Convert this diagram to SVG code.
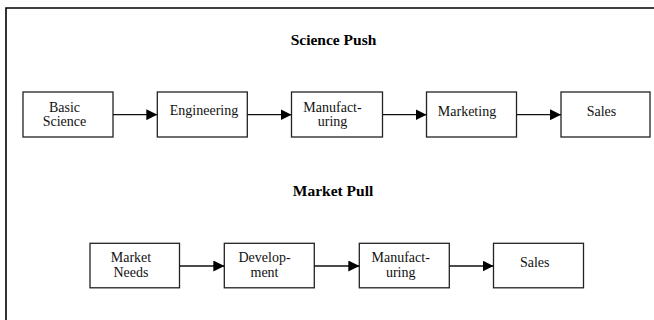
<svg xmlns="http://www.w3.org/2000/svg" width="654" height="320" viewBox="0 0 654 320">
<defs>
<style>
.box{fill:#fff;stroke:#222;stroke-width:1.3}
.t{font-family:"Liberation Serif","Times New Roman",serif;font-size:14px;fill:#111;text-anchor:middle}
.title{font-family:"Liberation Serif","Times New Roman",serif;font-size:15.5px;font-weight:bold;fill:#000;text-anchor:middle}
.conn{stroke:#111;stroke-width:1.3;fill:none;marker-end:url(#arr)}
.frame{stroke:#000;stroke-width:1.6;fill:none}
</style>
<marker id="arr" markerWidth="11" markerHeight="11" refX="11" refY="5.5" orient="auto" markerUnits="userSpaceOnUse">
<path d="M0,0 L11,5.5 L0,11 Z" fill="#000"/>
</marker>
</defs>
<rect width="654" height="320" fill="#fff"/>
<path class="frame" d="M6,320 L6,8 L654,8"/>
<text class="title" x="333.5" y="44.5">Science Push</text>
<text class="title" x="333" y="196">Market Pull</text>
<g id="basic-science"><rect class="box" x="23" y="92" width="90" height="45"/><text class="t" x="64.5" y="111.5">Basic</text><text class="t" x="64.5" y="126">Science</text></g>
<g id="engineering"><rect class="box" x="157.3" y="92" width="90" height="45"/><text class="t" x="204" y="114.5">Engineering</text></g>
<g id="manufacturing-1"><rect class="box" x="291.5" y="92" width="91" height="45"/><text class="t" x="332.5" y="111.5">Manufact-</text><text class="t" x="332.5" y="126">uring</text></g>
<g id="marketing"><rect class="box" x="426.5" y="92" width="90" height="45"/><text class="t" x="467" y="115.5">Marketing</text></g>
<g id="sales-1"><rect class="box" x="561" y="92" width="89" height="45"/><text class="t" x="601.5" y="115.5">Sales</text></g>
<g id="market-needs"><rect class="box" x="90" y="243.3" width="89.5" height="44.5"/><text class="t" x="131" y="262">Market</text><text class="t" x="131" y="277">Needs</text></g>
<g id="development"><rect class="box" x="224.3" y="243.3" width="90" height="44.5"/><text class="t" x="264.5" y="262">Develop-</text><text class="t" x="264.5" y="277">ment</text></g>
<g id="manufacturing-2"><rect class="box" x="359.3" y="243.3" width="90" height="44.5"/><text class="t" x="400.7" y="262">Manufact-</text><text class="t" x="400.7" y="277">uring</text></g>
<g id="sales-2"><rect class="box" x="493.5" y="243.3" width="90" height="44.5"/><text class="t" x="534.7" y="267">Sales</text></g>
<g id="connectors">
<line class="conn" x1="113" y1="114.7" x2="157.3" y2="114.7"/>
<line class="conn" x1="247.3" y1="114.7" x2="291.5" y2="114.7"/>
<line class="conn" x1="382.5" y1="114.7" x2="426.5" y2="114.7"/>
<line class="conn" x1="516.5" y1="114.7" x2="561" y2="114.7"/>
<line class="conn" x1="179.5" y1="266" x2="224.3" y2="266"/>
<line class="conn" x1="314.3" y1="266" x2="359.3" y2="266"/>
<line class="conn" x1="449.3" y1="266" x2="493.5" y2="266"/>
</g>
</svg>
